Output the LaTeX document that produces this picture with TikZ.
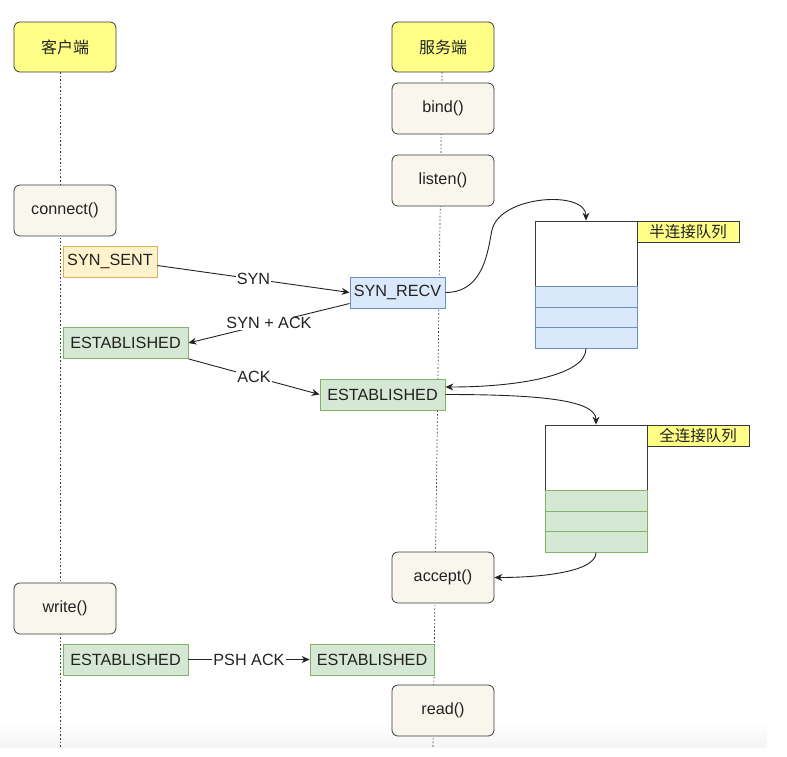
\documentclass[tikz,border=0pt]{standalone}
\usepackage{fontspec}
\setmainfont{Liberation Sans}
\newfontfamily\cjk{Noto Sans CJK SC}
\usetikzlibrary{arrows.meta}
\definecolor{lineC}{HTML}{36393D}
\definecolor{hdrY}{HTML}{FFFF88}
\definecolor{funcF}{HTML}{F9F7ED}
\definecolor{sentF}{HTML}{FFF2CC}
\definecolor{sentD}{HTML}{D6B656}
\definecolor{recvF}{HTML}{DAE8FC}
\definecolor{recvD}{HTML}{6C8EBF}
\definecolor{estF}{HTML}{D5E8D4}
\definecolor{estD}{HTML}{82B366}
\definecolor{txt}{HTML}{222222}
\begin{document}
\begin{tikzpicture}[x=1pt,y=-1pt,
  every node/.style={text=txt, font=\fontsize{16.2}{19}\selectfont},
  hdr/.style={draw=lineC, fill=hdrY, rounded corners=6pt, minimum width=102pt, minimum height=50pt, inner sep=0pt, font=\cjk\fontsize{16}{19}\selectfont, line width=0.8pt},
  func/.style={draw=lineC, fill=funcF, rounded corners=6pt, minimum width=102pt, minimum height=51pt, inner sep=0pt, line width=0.8pt},
  st/.style={minimum height=31pt, inner sep=0pt, line width=0.8pt},
  sent/.style={st, draw=sentD, fill=sentF},
  recv/.style={st, draw=recvD, fill=recvF},
  est/.style={st, draw=estD, fill=estF},
  qtop/.style={draw=lineC, fill=white, minimum width=102pt, minimum height=66pt, inner sep=0pt, line width=0.8pt},
  qrowb/.style={draw=recvD, fill=recvF, minimum width=102pt, minimum height=20.5pt, inner sep=0pt, line width=0.8pt},
  qrowg/.style={draw=estD, fill=estF, minimum width=102pt, minimum height=20.5pt, inner sep=0pt, line width=0.8pt},
  qlbl/.style={draw=lineC, fill=hdrY, minimum width=102pt, minimum height=21pt, inner sep=0pt, font=\cjk\fontsize{15.5}{18}\selectfont, line width=0.8pt},
  lifel/.style={draw=lineC, dash pattern=on 1.6pt off 2pt, line width=0.7pt},
  conn/.style={draw=txt, line width=0.9pt, -{Stealth[length=8pt,width=7pt]}},
  lbl/.style={fill=white, inner sep=1pt}]
\useasboundingbox (0,0) rectangle (787,756);
\fill[top color=white, bottom color=black!4] (0,722) rectangle (767,747);

% lifelines
\coordinate (ctop) at (60,72);
\coordinate (cbot) at (60,747);
\coordinate (stop) at (442,72);
\coordinate (sbot) at (433,747);
\draw[lifel] (ctop) -- (cbot);
\draw[lifel] (stop) -- (sbot);

% headers and calls
\node[hdr] (ch) at (65,47) {客户端};
\node[hdr] (sh) at (443,47) {服务端};
\node[func] (bind) at (443,108.5) {bind()};
\node[func] (listen) at (443,180.5) {listen()};
\node[func] (connect) at (65,210.5) {connect()};
\node[func] (accept) at (443,577.5) {accept()};
\node[func] (write) at (65,608.5) {write()};
\node[func] (read) at (443,710.5) {read()};

% states
\node[sent, minimum width=94pt] (sent) at (110,261.5) {SYN\_SENT};
\node[recv, minimum width=95pt] (recv) at (397.5,292.5) {SYN\_RECV};
\node[est, minimum width=125pt] (ce1) at (125.5,343) {ESTABLISHED};
\node[est, minimum width=125pt] (se1) at (382.5,394.5) {ESTABLISHED};
\node[est, minimum width=125pt] (ce2) at (125.5,659.5) {ESTABLISHED};
\node[est, minimum width=124pt] (se2) at (372,659.5) {ESTABLISHED};

% half queue
\node[qtop] (q1) at (586,254) {};
\node[qrowb] (q1a) at (586,297) {};
\node[qrowb] (q1b) at (586,317.5) {};
\node[qrowb] (q1c) at (586,338) {};
\node[qlbl] (q1l) at (688,231.5) {半连接队列};

% full queue
\node[qtop] (q2) at (596,458) {};
\node[qrowg] (q2a) at (596,501) {};
\node[qrowg] (q2b) at (596,521.5) {};
\node[qrowg] (q2c) at (596,542) {};
\node[qlbl] (q2l) at (698,435.5) {全连接队列};

% handshake
\draw[conn] ([yshift=-4pt]sent.east) -- node[lbl] {SYN} (recv.west);
\draw[conn] ([yshift=-11pt]recv.west) -- node[lbl] {SYN + ACK} (ce1.east);
\draw[conn] (ce1.south east) -- node[lbl] {ACK} (se1.west);
\draw[conn] (ce2.east) -- node[lbl] {PSH ACK} (se2.west);

% queue flows
\draw[conn] (recv.east) .. controls (485,292.5) and (488,248) .. (492,230) .. controls (500,195) and (586,190) .. (q1.north);
\draw[conn] (q1c.south) .. controls (586,375) and (520,387) .. ([yshift=7.5pt]se1.east);
\draw[conn] (se1.east) .. controls (540,394.5) and (596,400) .. (q2.north);
\draw[conn] (q2c.south) .. controls (596,572) and (540,577.5) .. (accept.east);
\end{tikzpicture}
\end{document}
